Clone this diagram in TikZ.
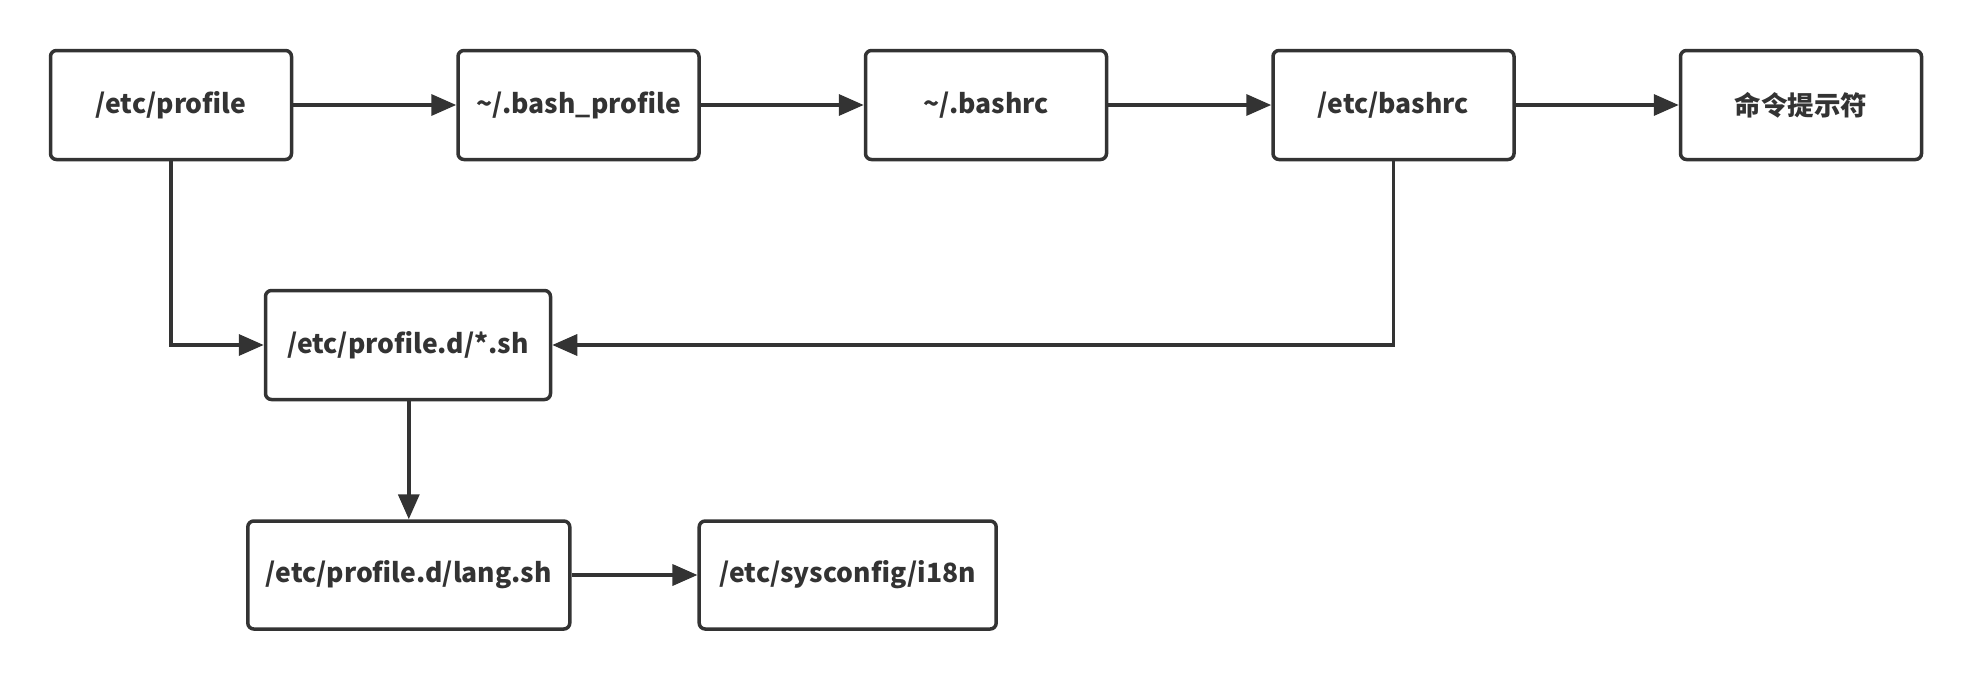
\documentclass[tikz,border=0pt]{standalone}
\usepackage{fontspec}
\setmainfont{Noto Sans CJK SC}
\usetikzlibrary{arrows.meta}
\definecolor{ink}{HTML}{333333}
\tikzset{
  box/.style={draw=ink, line width=3.5pt, rounded corners=6pt, minimum height=109pt,
    text=ink, font=\fontsize{26.5}{30}\selectfont\bfseries, inner sep=0pt, anchor=center},
  conn/.style={draw=ink, line width=3.5pt, -{Triangle[length=25pt,width=21pt]}},
}
\begin{document}
\begin{tikzpicture}[x=1pt,y=-1pt]
\useasboundingbox (0,0) rectangle (1972,680);
\node[box, minimum width=241pt] (profile) at (171,105) {/etc/profile};
\node[box, minimum width=241pt] (bprof) at (578.5,105) {\textasciitilde/.bash\_profile};
\node[box, minimum width=241pt] (bashrc) at (986,105) {\textasciitilde/.bashrc};
\node[box, minimum width=241pt] (ebashrc) at (1393.5,105) {/etc/bashrc};
\node[box, minimum width=241pt] (prompt) at (1801,105) {命令提示符};
\node[box, minimum width=285pt] (profd) at (408,345) {/etc/profile.d/*.sh};
\node[box, minimum width=322pt, minimum height=108pt] (lang) at (408.8,575) {/etc/profile.d/lang.sh};
\node[box, minimum width=297pt, minimum height=108pt] (i18n) at (847.7,575) {/etc/sysconfig/i18n};
\draw[conn] (profile) -- (bprof);
\draw[conn] (bprof) -- (bashrc);
\draw[conn] (bashrc) -- (ebashrc);
\draw[conn] (ebashrc) -- (prompt);
\draw[conn] (profile.south) |- (profd.west);
\draw[conn] (ebashrc.south) |- (profd.east);
\draw[conn] (profd.south -| lang.north) -- (lang.north);
\draw[conn] (lang) -- (i18n);
\end{tikzpicture}
\end{document}
